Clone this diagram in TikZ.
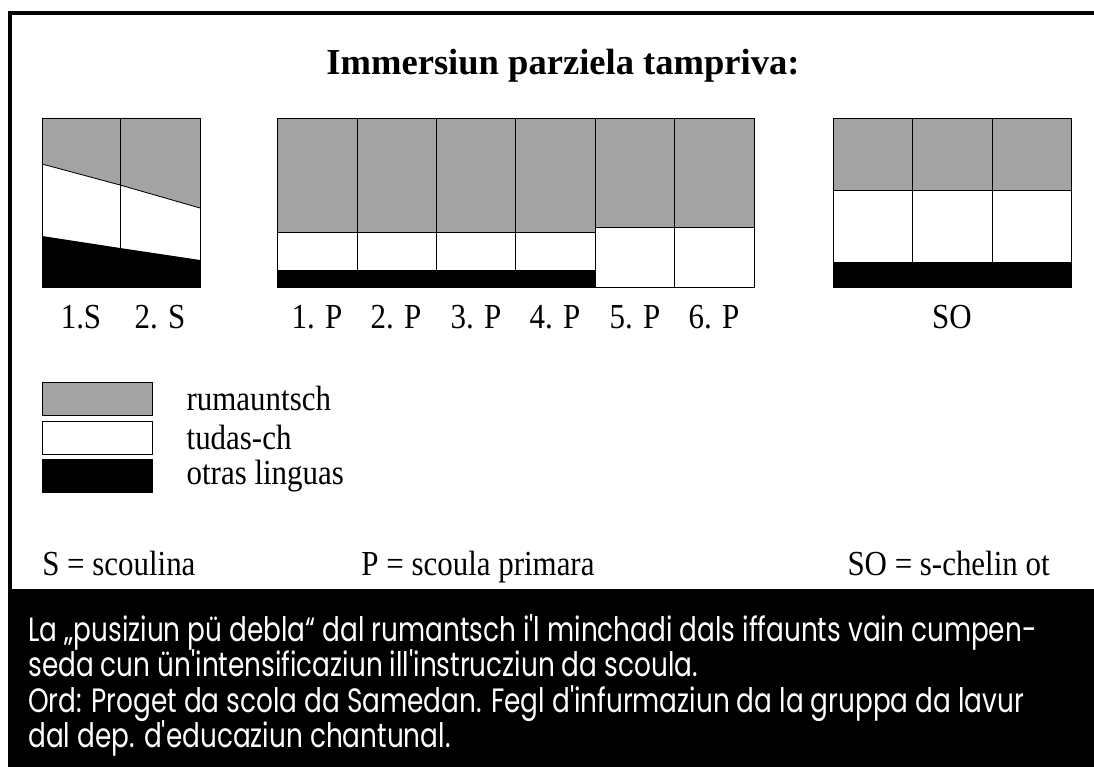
\documentclass[tikz,border=0pt]{standalone}
\usepackage{fontspec}
\setmainfont{Liberation Serif}
\newfontfamily\labelfont[FakeStretch=0.88]{Liberation Serif}
\newfontfamily\notefont[FakeStretch=0.78]{Poppins}
\usetikzlibrary{positioning}
\definecolor{rumgray}{RGB}{163,163,163}

\tikzset{
  lbl/.style={font=\labelfont\fontsize{25}{29}\selectfont, anchor=base, inner sep=0pt},
  keybox/.style={draw, line width=0.5pt, minimum width=2.75cm, minimum height=0.82cm, inner sep=0pt},
  keytext/.style={font=\labelfont\fontsize{25}{29}\selectfont, anchor=west, inner sep=0pt},
  noteline/.style={font=\notefont\fontsize{24}{28}\selectfont, text=white, anchor=base west, inner sep=0pt}
}

\begin{document}
\begin{tikzpicture}[x=0.025cm,y=-0.025cm]
  \useasboundingbox (0,0) rectangle (1094,767);
  % frame and black note band
  \draw[line width=3pt] (10,767) -- (10,13) -- (1094,13);
  \fill (10,589) rectangle (1094,767);

  \node[font=\fontsize{26}{30}\selectfont\bfseries, anchor=base, inner sep=0pt] (title) at (563,75) {Immersiun parziela tampriva:};

  % scoulina
  \fill[rumgray] (42,118) -- (200,118) -- (200,208) -- (120,185) -- (42,164) -- cycle;
  \fill (42,236) -- (120,248) -- (200,260) -- (200,287) -- (42,287) -- cycle;
  \draw[line width=0.6pt] (42,164) -- (120,185) -- (200,208);
  \draw[line width=0.5pt] (42,118) rectangle (200,287) (120,118) -- (120,287);

  % scoula primara
  \fill[rumgray] (277,118) rectangle (595,232);
  \fill[rumgray] (595,118) rectangle (754,227);
  \fill (277,270) rectangle (595,287);
  \draw[line width=0.5pt] (277,232) -- (595,232) (595,227) -- (754,227) (277,270) -- (595,270);
  \draw[line width=0.5pt] (277,118) rectangle (754,287);
  \foreach \x in {357,436,515,595,674}
    \draw[line width=0.5pt] (\x,118) -- (\x,287);

  % s-chelin ot
  \fill[rumgray] (833,118) rectangle (1071,190);
  \fill (833,262) rectangle (1071,287);
  \draw[line width=0.5pt] (833,190) -- (1071,190);
  \draw[line width=0.5pt] (833,118) rectangle (1071,287);
  \foreach \x in {912,992}
    \draw[line width=0.5pt] (\x,118) -- (\x,287);

  \node[lbl] (s1) at (81,329) {1.S};
  \node[lbl] (s2) at (160,329) {2. S};
  \node[lbl] (p1) at (317,329) {1. P};
  \node[lbl] (p2) at (396,329) {2. P};
  \node[lbl] (p3) at (476,329) {3. P};
  \node[lbl] (p4) at (555,329) {4. P};
  \node[lbl] (p5) at (635,329) {5. P};
  \node[lbl] (p6) at (714,329) {6. P};
  \node[lbl] (so) at (952,329) {SO};

  % legend
  \node[keybox, fill=rumgray] (keyrum) at (97,398.5) {};
  \node[keybox, fill=white] (keytud) at (97,437.5) {};
  \node[keybox, fill=black] (keyoth) at (97,476) {};
  \node[keytext, right=0.85cm of keyrum.east] (txtrum) {rumauntsch};
  \node[keytext, right=0.85cm of keytud.east] (txttud) {tudas-ch};
  \node[keytext, right=0.85cm of keyoth.east] (txtoth) {otras linguas};

  \node[lbl, anchor=base west] (keyS) at (42,575) {S = scoulina};
  \node[lbl] (keyP) at (478,575) {P = scoula primara};
  \node[lbl, anchor=base east] (keySO) at (1050,575) {SO = s-chelin ot};

  % note
  \node[noteline] (note1) at (28,641) {La „pusiziun pü debla“ dal rumantsch i'l minchadi dals iffaunts vain cumpen-};
  \node[noteline] (note2) at (28,676) {seda cun ün'intensificaziun ill'instrucziun da scoula.};
  \node[noteline] (note3) at (28,712) {Ord: Proget da scola da Samedan. Fegl d'infurmaziun da la gruppa da lavur};
  \node[noteline] (note4) at (28,747) {dal dep. d'educaziun chantunal.};
\end{tikzpicture}
\end{document}
